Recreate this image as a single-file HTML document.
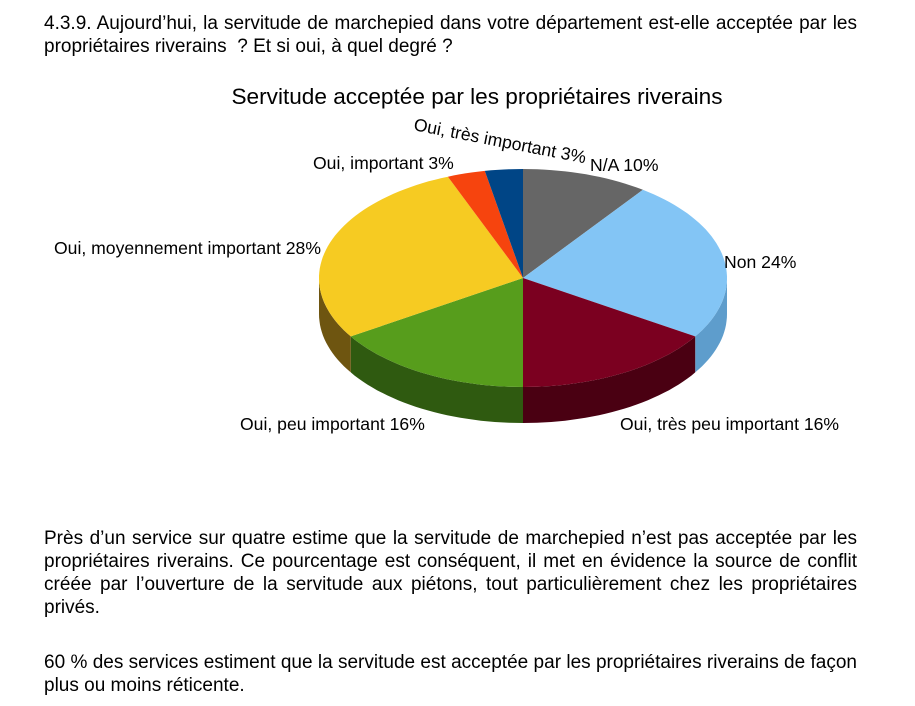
<!DOCTYPE html>
<html><head><meta charset="utf-8"><style>
body{margin:0;background:#fff;width:915px;height:706px;overflow:hidden;position:relative;font-family:"Liberation Sans",sans-serif;color:#000}
.p{position:absolute;left:44px;width:813px;font-size:19px;line-height:23px;text-align:justify;text-align-last:left}
</style></head><body>
<div class="p" style="top:12px">4.3.9. Aujourd’hui, la servitude de marchepied dans votre département est-elle acceptée par les propriétaires riverains &nbsp;? Et si oui, à quel degré ?</div>
<svg id="chart" width="915" height="706" style="position:absolute;left:0;top:0">
<text x="477" y="104" text-anchor="middle" font-size="22.6" font-family="Liberation Sans">Servitude acceptée par les propriétaires riverains</text>
</svg>
<div class="p" style="top:527px">Près d’un service sur quatre estime que la servitude de marchepied n’est pas acceptée par les propriétaires riverains. Ce pourcentage est conséquent, il met en évidence la source de conflit créée par l’ouverture de la servitude aux piétons, tout particulièrement chez les propriétaires privés.</div>
<div class="p" style="top:651px">60 % des services estiment que la servitude est acceptée par les propriétaires riverains de façon plus ou moins réticente.</div>
<script>
const categories=["N/A","Non","Oui, très peu important","Oui, peu important","Oui, moyennement important","Oui, important","Oui, très important"];
const values=[10,24,16,16,28,3,3];
const colors=["#666666","#83c5f5","#7b0020","#579d1c","#f6cb22","#f6440e","#004586"];
const sides=["#444","#5e9dcc","#4a0012","#2f5a10","#6e5510","#a02c08","#002a55"];
const cx=523,cy=278,rx=204,ry=109,depth=36;
const svg=document.getElementById('chart');
const NS="http://www.w3.org/2000/svg";
function pt(t,dy){const r=t*Math.PI/180;return [cx+rx*Math.sin(r),cy-ry*Math.cos(r)+(dy||0)];}
function arc(a,b,dy){let s="";const n=Math.max(2,Math.ceil((b-a)/2));for(let i=0;i<=n;i++){const p=pt(a+(b-a)*i/n,dy);s+=(i?"L":"")+p[0].toFixed(1)+","+p[1].toFixed(1);}return s;}
const total=values.reduce((a,b)=>a+b,0);
let acc=0;const angs=values.map(v=>{const a=acc*360/total;acc+=v;return [a,acc*360/total];});
angs.forEach((g,i)=>{const a=Math.max(g[0],90),b=Math.min(g[1],270);if(b<=a)return;
 const p=document.createElementNS(NS,'path');
 let d="M"+arc(a,b,0)+"L"+arc(a,b,depth).split("L").reverse().join("L")+"Z";
 p.setAttribute('d',d);p.setAttribute('fill',sides[i]);
 
 
 svg.appendChild(p);});
angs.forEach((g,i)=>{const p=document.createElementNS(NS,'path');
 p.setAttribute('d',"M"+cx+","+cy+"L"+arc(g[0],g[1],0)+"Z");p.setAttribute('fill',colors[i]);
 
 
 svg.appendChild(p);});
const labelPos=[[590,171,0],[724,268,0],[620,430,0],[240,430,0],[54,254,0],[313,169,0],[413,130,11]];
values.forEach((v,i)=>{const t=document.createElementNS(NS,'text');const L=labelPos[i];
 t.setAttribute('x',L[0]);t.setAttribute('y',L[1]);t.setAttribute('font-size','17.6');
 t.setAttribute('font-family','Liberation Sans');
 if(L[2])t.setAttribute('transform','rotate('+L[2]+' '+L[0]+' '+L[1]+')');
 t.textContent=categories[i]+" "+v+"%";
 
 
 svg.appendChild(t);});
</script>
</body></html>
